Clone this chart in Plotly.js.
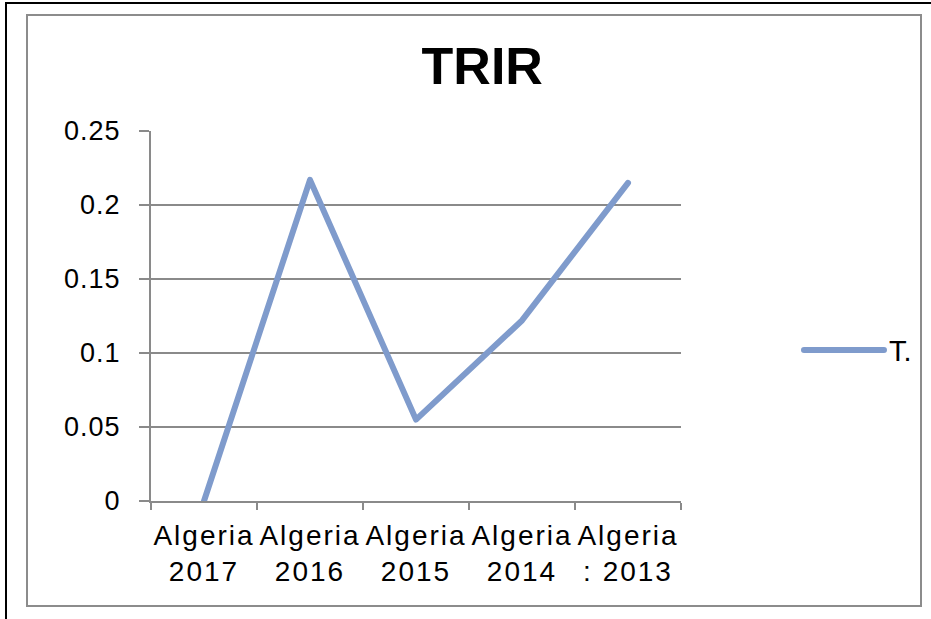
<!DOCTYPE html>
<html>
<head>
<meta charset="utf-8">
<script src="https://cdn.plot.ly/plotly-3.0.1.min.js"></script>
<style>
  html, body { margin: 0; padding: 0; background: #ffffff; }
  #wrap { position: relative; width: 931px; height: 619px; overflow: hidden; }
  #chart { position: absolute; left: 0; top: 0; width: 931px; height: 619px; }
  .frame { position: absolute; pointer-events: none; box-sizing: border-box; }
  .xtick text { letter-spacing: 2px; }
  .ytick text { letter-spacing: 1px; }
</style>
</head>
<body>
<div id="wrap">
  <div id="chart"></div>
  <div class="frame" style="left:5px; top:2px; width:940px; height:640px; border-left:2px solid #000; border-top:2px solid #000;"></div>
  <div class="frame" style="left:26px; top:14px; width:896px; height:593px; border:2px solid #8c8c8c;"></div>
</div>
<script>
const categories = ["Algeria<br>2017", "Algeria<br>2016", "Algeria<br>2015", "Algeria<br>2014", "Algeria<br>: 2013"];
const trirValues = [0.0, 0.217, 0.055, 0.122, 0.215];
const seriesName = "T.";
const yTicks = [0, 0.05, 0.1, 0.15, 0.2, 0.25];
const yTickLabels = ["0", "0.05", "0.1", "0.15", "0.2", "0.25"];

const lineColor = "#7f9bcc";
const gridColor = "#8a8a8a";
const fontFam = "Liberation Sans, Arial, sans-serif";

const trace = {
  type: "scatter",
  mode: "lines",
  x: categories,
  y: trirValues,
  name: seriesName,
  line: { color: lineColor, width: 6, shape: "linear" },
  hoverinfo: "x+y"
};

const layout = {
  width: 931,
  height: 619,
  paper_bgcolor: "#ffffff",
  plot_bgcolor: "#ffffff",
  margin: { l: 151, r: 250, t: 131, b: 118, pad: 0 },
  title: {
    text: "<b>TRIR</b>",
    font: { family: fontFam, size: 52, color: "#000000" },
    x: 0.518, xref: "container", xanchor: "center",
    y: 0.893, yref: "container", yanchor: "middle"
  },
  showlegend: true,
  legend: {
    x: 1.2226, xref: "paper", xanchor: "left",
    y: 0.408, yref: "paper", yanchor: "middle",
    font: { family: fontFam, size: 29, color: "#000000" },
    itemwidth: 80,
    bgcolor: "rgba(0,0,0,0)",
    borderwidth: 0
  },
  xaxis: {
    type: "category",
    range: [-0.5, 4.5],
    showgrid: false,
    zeroline: false,
    showline: true,
    linecolor: gridColor,
    linewidth: 2,
    ticks: "outside",
    tickson: "boundaries",
    ticklen: 7,
    tickwidth: 2,
    tickcolor: gridColor,
    tickfont: { family: fontFam, size: 28, color: "#000000" },
    tickangle: 0,
    ticklabelstandoff: 8,
    fixedrange: true
  },
  yaxis: {
    range: [0, 0.25],
    tickmode: "array",
    tickvals: yTicks,
    ticktext: yTickLabels,
    showgrid: true,
    gridcolor: gridColor,
    gridwidth: 1.5,
    zeroline: false,
    showline: true,
    linecolor: gridColor,
    linewidth: 2,
    ticks: "outside",
    ticklen: 10,
    tickwidth: 1.5,
    tickcolor: gridColor,
    tickfont: { family: fontFam, size: 27, color: "#000000" },
    ticklabelstandoff: 13,
    fixedrange: true
  }
};

Plotly.newPlot("chart", [trace], layout, { displayModeBar: false }).then(function (gd) {
  const paths = gd.querySelectorAll(".legendlines path");
  paths.forEach(function (p) {
    p.setAttribute("d", "M5,0h80");
    p.style.strokeLinecap = "round";
  });
  const main = gd.querySelectorAll(".scatterlayer .js-line");
  main.forEach(function (p) {
    p.style.strokeLinejoin = "round";
    p.style.strokeLinecap = "round";
  });
});
</script>
</body>
</html>
